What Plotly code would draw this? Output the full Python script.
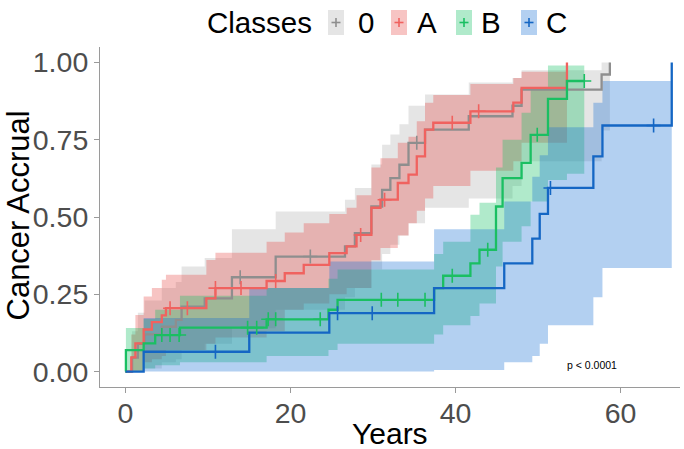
import plotly.graph_objects as go

# ---------------- data ----------------
class_names = ["0", "A", "B", "C"]

# class 0
t_0 = [0, 0.8, 1.5, 2.3, 4.4, 6.1, 6.8, 9.6, 12.9, 18.2, 26.6, 27.8, 29.8, 31.1, 32.1, 33.2, 34.3, 36.3, 41.6, 46.9, 48.0, 57.7, 58.7]
est_0 = [0, .045, .09, .12, .145, .167, .21, .237, .305, .372, .405, .448, .534, .588, .626, .669, .74, .783, .826, .86, .912, .961, 1.0]
lo_0 = [0, 0, 0, .01, .03, .04, .07, .09, .14, .20, .24, .27, .33, .38, .41, .44, .48, .53, .56, .60, .68, .78, 1.0]
hi_0 = [0, .13, .19, .23, .27, .29, .34, .367, .46, .518, .556, .594, .67, .734, .767, .80, .86, .896, .935, .95, .975, 1.0, 1.0]
cens_0 = [13.9, 22.4, 35.3]
end_0 = 58.7

# class A
t_A = [0, 0.7, 1.2, 2.2, 3.2, 4.4, 4.9, 9.8, 10.9, 17.1, 19.3, 21.6, 24.7, 26.8, 28.0, 29.8, 30.9, 33.0, 34.3, 35.3, 36.3, 37.3, 41.8, 47.0, 48.0, 53.5]
est_A = [0, .046, .091, .136, .16, .182, .205, .237, .27, .293, .318, .345, .383, .405, .442, .53, .556, .61, .637, .696, .783, .805, .842, .87, .918, 1.0]
lo_A = [0, 0, 0, .03, .04, .05, .07, .09, .11, .13, .20, .22, .25, .27, .27, .36, .40, .44, .48, .52, .56, .60, .65, .68, .74, 1.0]
hi_A = [0, .12, .183, .243, .27, .297, .313, .361, .384, .42, .45, .48, .51, .53, .57, .66, .69, .74, .76, .81, .87, .895, .93, .95, .97, 1.0]
cens_A = [5.4, 7.5, 10.9, 14.0, 18.2, 28.5, 31.4, 39.6, 42.8]
end_A = 53.5

# class B
t_B = [0, 0.05, 2.2, 3.6, 6.6, 17.1, 24.6, 25.7, 37.4, 38.5, 41.8, 42.9, 44.9, 45.7, 48.0, 49.1, 51.2, 53.5]
est_B = [0, .069, .091, .118, .142, .169, .2, .232, .27, .31, .35, .394, .534, .626, .675, .766, .882, .94]
lo_B = [0, 0, .01, .02, .03, .05, .07, .09, .12, .15, .18, .22, .34, .42, .47, .55, .62, .64]
hi_B = [0, .141, .17, .2, .245, .27, .3, .33, .38, .42, .507, .546, .66, .75, .837, .92, .99, .99]
cens_B = [4.4, 5.4, 6.5, 14.8, 15.9, 17.3, 18.2, 23.6, 31.0, 33.0, 36.3, 39.6, 43.9, 49.9, 55.6]
end_B = 55.6

# class C
t_C = [0, 2.2, 15.0, 24.7, 37.4, 45.9, 49.3, 50.2, 51.2, 56.7, 57.8, 66.2]
est_C = [0, .064, .126, .189, .27, .35, .43, .51, .594, .696, .796, 1.0]
lo_C = [0, 0, 0, 0, .005, .03, .05, .09, .15, .24, .335, 1.0]
hi_C = [0, .173, .27, .356, .46, .55, .63, .70, .79, .87, .94, 1.0]
cens_C = [10.9, 25.7, 29.9, 51.5, 64.0]
end_C = 66.2

x_ticks = [0, 20, 40, 60]
y_ticks = [0, 0.25, 0.5, 0.75, 1.0]
p_label = "p < 0.0001"

# ---------------- styling ----------------
line_colors = ["#8E8E8E", "#F0625F", "#1ABF62", "#1466C4"]
fill_colors = ["rgba(150,150,150,0.25)", "rgba(228,60,56,0.30)",
               "rgba(22,192,104,0.34)", "rgba(20,108,212,0.32)"]
FONT = "Liberation Sans, Arial, sans-serif"

W, H = 684, 449
ML, MR, MT, MB = 100, 4, 47, 62
X_RANGE = [-3.09, 67.2]
Y_RANGE = [-0.05, 1.05]


def px_x(px):
    return (px - ML) / (W - ML - MR)


def px_y(py):
    return (H - MB - py) / (H - MT - MB)


def step_path(t, v, end):
    xs, ys = [], []
    for i in range(len(t)):
        nxt = t[i + 1] if i + 1 < len(t) else end
        xs += [t[i], nxt]
        ys += [v[i], v[i]]
    return xs, ys


def step_value(t, v, x):
    val = v[0]
    for ti, vi in zip(t, v):
        if ti <= x:
            val = vi
    return val


series = [
    (t_0, est_0, lo_0, hi_0, cens_0, end_0),
    (t_A, est_A, lo_A, hi_A, cens_A, end_A),
    (t_B, est_B, lo_B, hi_B, cens_B, end_B),
    (t_C, est_C, lo_C, hi_C, cens_C, end_C),
]

fig = go.Figure()

# confidence ribbons
for (t, est, lo, hi, cens, end), fc in zip(series, fill_colors):
    ux, uy = step_path(t, hi, end)
    lx, ly = step_path(t, lo, end)
    fig.add_trace(go.Scatter(
        x=ux + lx[::-1], y=uy + ly[::-1], mode="lines", fill="toself",
        fillcolor=fc, line=dict(width=0), hoverinfo="skip", showlegend=False))

# step curves
for (t, est, lo, hi, cens, end), lc in zip(series, line_colors):
    sx, sy = step_path(t, est, end)
    fig.add_trace(go.Scatter(
        x=sx, y=sy, mode="lines", line=dict(color=lc, width=2.3),
        hoverinfo="skip", showlegend=False))

# censoring marks
for (t, est, lo, hi, cens, end), lc in zip(series, line_colors):
    fig.add_trace(go.Scatter(
        x=cens, y=[step_value(t, est, c) for c in cens], mode="markers",
        marker=dict(symbol="cross-thin", size=10, line=dict(color=lc, width=1.6)),
        hoverinfo="skip", showlegend=False))

axis_common = dict(
    showgrid=False, zeroline=False, showline=True, linecolor="#9A9A9A", linewidth=1.1,
    ticks="outside", ticklen=5, tickwidth=1.1, tickcolor="#9A9A9A",
    tickfont=dict(family=FONT, size=28.5, color="#4D4D4D"),
)

fig.update_layout(
    width=W, height=H,
    margin=dict(l=ML, r=MR, t=MT, b=MB),
    paper_bgcolor="white", plot_bgcolor="white",
    xaxis=dict(range=X_RANGE, tickvals=x_ticks, ticklabelstandoff=-4, **axis_common),
    yaxis=dict(range=Y_RANGE, tickvals=y_ticks, tickformat=".2f", **axis_common),
    showlegend=False,
)

annotations = [
    dict(text="Years", xref="paper", yref="paper", x=0.5, y=px_y(433),
         xanchor="center", yanchor="middle", showarrow=False,
         font=dict(family=FONT, size=30, color="black")),
    dict(text="Cancer Accrual", xref="paper", yref="paper", x=px_x(17.5), y=px_y(216),
         xanchor="center", yanchor="middle", textangle=-90, showarrow=False,
         font=dict(family=FONT, size=31, color="black")),
    dict(text=p_label, xref="x", yref="y", x=56.5, y=0.02, showarrow=False,
         xanchor="center", yanchor="middle",
         font=dict(family=FONT, size=10.5, color="black")),
    dict(text="Classes", xref="paper", yref="paper", x=px_x(205), y=px_y(22),
         xanchor="left", yanchor="middle", showarrow=False,
         font=dict(family=FONT, size=29.5, color="black")),
]

# legend keys: ribbon swatch with a censor cross, followed by the class label
key_left = [328, 391, 456, 521]
label_left = [356, 415, 479, 544]
shapes = []
for name, kl, ll, lc, fc in zip(class_names, key_left, label_left, line_colors, fill_colors):
    shapes.append(dict(type="rect", xref="paper", yref="paper",
                       x0=px_x(kl), x1=px_x(kl + 16), y0=px_y(35), y1=px_y(10),
                       fillcolor=fc, line=dict(width=0)))
    cx, cy = kl + 8, 22.5
    shapes.append(dict(type="line", xref="paper", yref="paper",
                       x0=px_x(cx - 4.5), x1=px_x(cx + 4.5), y0=px_y(cy), y1=px_y(cy),
                       line=dict(color=lc, width=1.6)))
    shapes.append(dict(type="line", xref="paper", yref="paper",
                       x0=px_x(cx), x1=px_x(cx), y0=px_y(cy - 4.5), y1=px_y(cy + 4.5),
                       line=dict(color=lc, width=1.6)))
    annotations.append(dict(text=name, xref="paper", yref="paper", x=px_x(ll), y=px_y(22),
                            xanchor="left", yanchor="middle", showarrow=False,
                            font=dict(family=FONT, size=29.5, color="black")))

fig.update_layout(annotations=annotations, shapes=shapes)

fig.write_html("out.html")
